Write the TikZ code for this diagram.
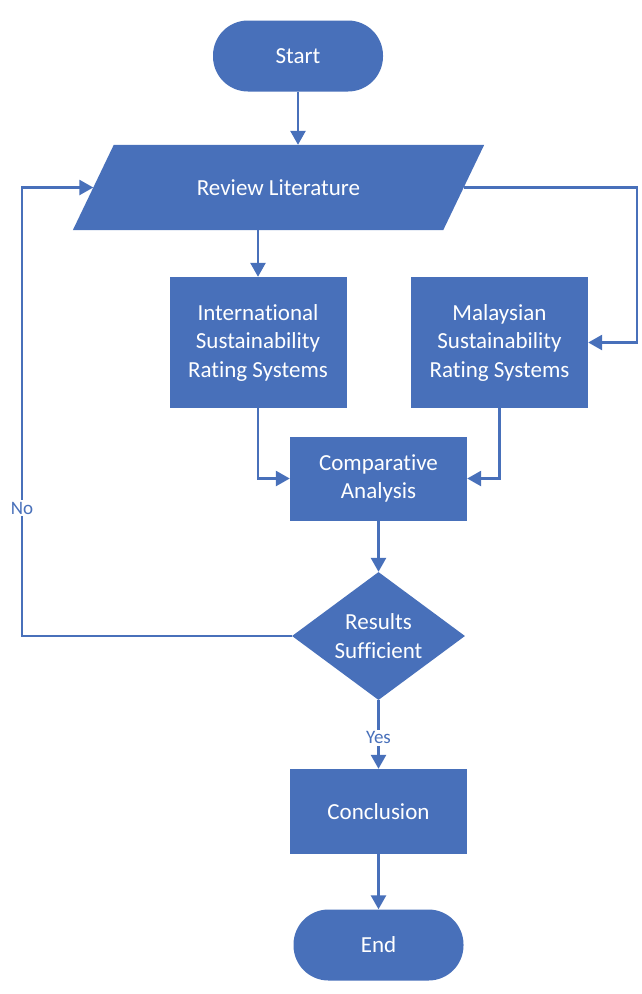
\documentclass[tikz,border=0pt]{standalone}
\usepackage{fontspec}
\setmainfont{Carlito}[Ligatures={NoCommon}]
\usetikzlibrary{shapes.geometric,arrows.meta,backgrounds}
\definecolor{fcblue}{RGB}{72,112,186}
\tikzset{
  every node/.style={font=\fontsize{23}{28.5}\selectfont, text=white, align=center},
  proc/.style={fill=fcblue, minimum width=177pt, inner sep=0pt},
  term/.style={fill=fcblue, minimum width=170pt, minimum height=71pt, rounded corners=35pt},
  io/.style={minimum width=370pt, minimum height=85pt, inner sep=0pt},
  decision/.style={fill=fcblue, diamond, minimum width=173pt, minimum height=128pt, inner sep=0pt, aspect=1.35},
  conn/.style={draw=fcblue, line width=2.6pt, -{Triangle[length=14pt,width=15pt]}},
  lbl/.style={font=\fontsize{19}{21}\selectfont, text=fcblue, fill=white, inner sep=2pt}
}
\begin{document}
\begin{tikzpicture}[x=1pt,y=-1pt]
\useasboundingbox (0,0) rectangle (642,994);

\node[term] (start) at (298,56) {Start};
\node[io] (review) at (278.5,187.5) {Review Literature};
\node[proc, minimum height=131pt] (intl) at (258,342.5) {International\\Sustainability\\Rating Systems};
\node[proc, minimum height=131pt] (malay) at (499.5,342.5) {Malaysian\\Sustainability\\Rating Systems};
\node[proc, minimum height=84pt] (comp) at (378.5,478.5) {Comparative\\Analysis};
\node[decision] (dec) at (378.5,636) {Results\\Sufficient};
\node[proc, minimum height=85pt] (concl) at (378.5,811.5) {Conclusion};
\node[term] (end) at (378.5,945) {End};

\begin{scope}[on background layer]
\fill[white] (0,0) rectangle (642,994);
\fill[fcblue] ([xshift=20.5pt]review.north west) -- ([xshift=20.5pt]review.north east)
  -- ([xshift=-20.5pt]review.south east) -- ([xshift=-20.5pt]review.south west) -- cycle;
\end{scope}

\coordinate (rc) at (637,187.5);
\coordinate (lc) at (22,636);

\draw[conn] (start.south) -- (start.south |- review.north);
\draw[conn] (intl.north |- review.south) -- (intl.north);
\draw[conn] (review.east) -- (rc) |- (malay.east);
\draw[conn] (intl.south) |- (comp.west);
\draw[conn] (malay.south) |- (comp.east);
\draw[conn] (comp.south) -- (dec.north);
\draw[conn] (dec.south) -- node[lbl, pos=0.55] {Yes} (concl.north);
\draw[conn] (concl.south) -- (end.north);
\draw[conn] (dec.west) -- (lc) -- node[lbl, pos=0.285] {No} (lc |- review.west) -- (review.west);
\end{tikzpicture}
\end{document}
